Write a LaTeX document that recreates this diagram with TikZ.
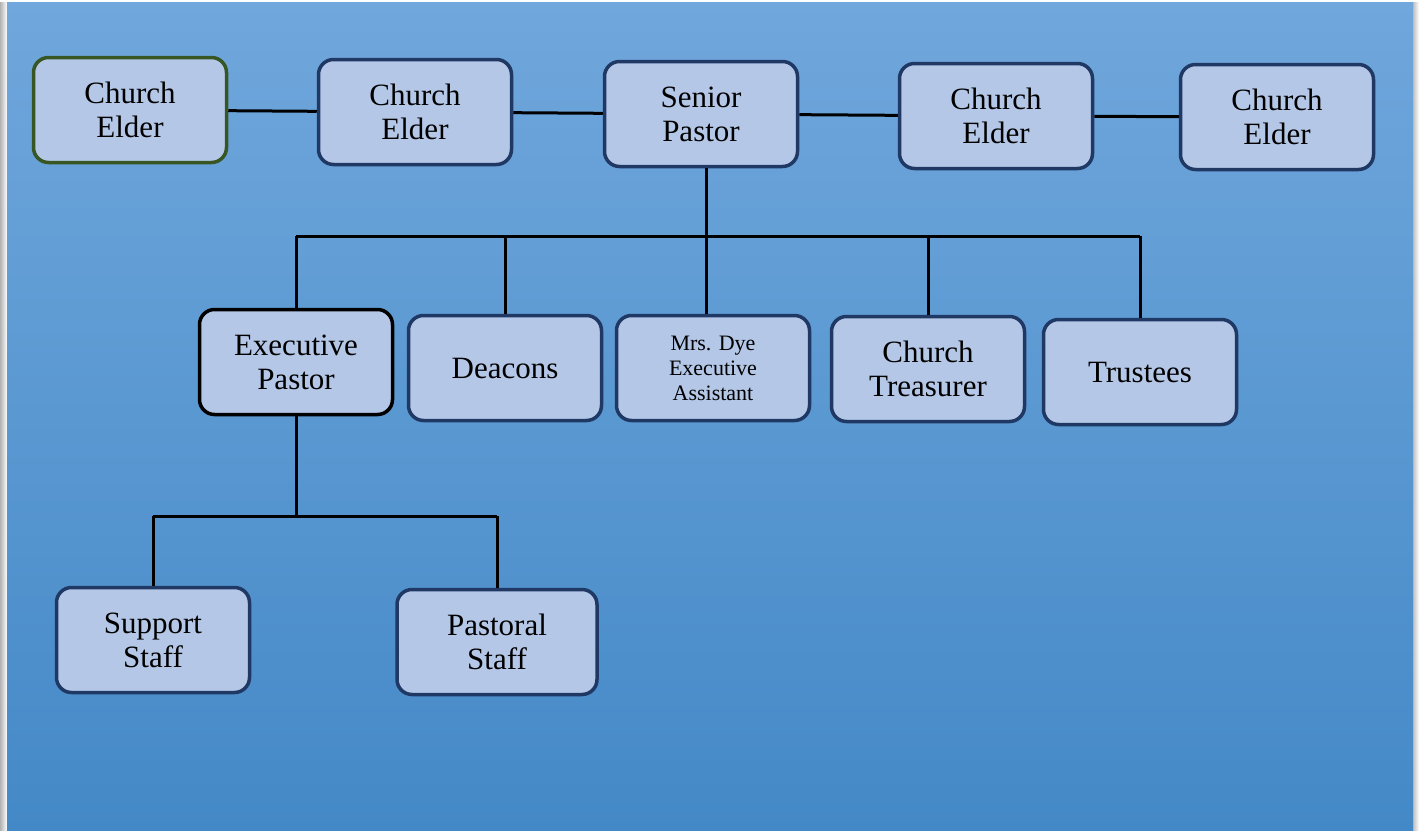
\documentclass[tikz,border=0pt]{standalone}
\usepackage{fontspec}
\setmainfont{Liberation Serif}
\definecolor{paneltop}{RGB}{112,167,220}
\definecolor{panelbot}{RGB}{68,137,199}
\definecolor{boxfill}{RGB}{180,199,231}
\definecolor{boxline}{RGB}{31,56,100}
\definecolor{elderline}{RGB}{55,86,35}
\tikzset{
	post/.style={draw=boxline, fill=boxfill, line width=3.5pt, rounded corners=15pt,
		minimum width=193pt, minimum height=105pt, align=center,
		font=\fontsize{31}{34}\selectfont},
	link/.style={line width=3pt}
}
\begin{document}
\begin{tikzpicture}[x=1pt,y=-1pt]
	\useasboundingbox (0,0) rectangle (1419,830);
	\fill[white] (0,0) rectangle (1419,830);
	\shade[left color=gray!60, right color=white] (0,2) rectangle (7,830);
	\shade[left color=gray!50, right color=white] (1413,2) rectangle (1419,830);
	\shade[top color=paneltop, bottom color=panelbot] (7,2) rectangle (1413,830);
	
	% top row
	\node[post, draw=elderline] (e1) at (130,110) {Church\\Elder};
	\node[post] (e2) at (415,112) {Church\\Elder};
	\node[post] (sp) at (701,114) {Senior\\Pastor};
	\node[post] (e3) at (996,116) {Church\\Elder};
	\node[post] (e4) at (1277,117) {Church\\Elder};
	
	\draw[link] (e1) -- (e2);
	\draw[link] (e2) -- (sp);
	\draw[link] (sp) -- (e3);
	\draw[link] (e3) -- (e4);
	
	% second row
	\node[post, draw=black] (ep) at (296,362) {Executive\\Pastor};
	\node[post] (dc) at (505,368) {Deacons};
	\node[post, font=\fontsize{22}{25}\selectfont] (ea) at (713,368) {Mrs. Dye\\Executive\\Assistant};
	\node[post] (tr) at (928,369) {Church\\Treasurer};
	\node[post] (ts) at (1140,372) {Trustees};
	
	\coordinate (bus) at (706,236);
	\draw[link] (sp.south -| bus) -- (bus);
	\draw[link] (ep.north |- bus) -- (ts.north |- bus);
	\draw[link] (ep.north |- bus) -- (ep.north);
	\draw[link] (dc.north |- bus) -- (dc.north);
	\draw[link] (bus) -- (bus |- ea.north);
	\draw[link] (tr.north |- bus) -- (tr.north);
	\draw[link] (ts.north |- bus) -- (ts.north);
	
	% third row
	\node[post] (ss) at (153,640) {Support\\Staff};
	\node[post, minimum width=200pt] (ps) at (497,642) {Pastoral\\Staff};
	
	\coordinate (bus2) at (ep.south |- 0,516);
	\draw[link] (ep.south) -- (bus2);
	\draw[link] (ss.north |- bus2) -- (ps.north |- bus2);
	\draw[link] (ss.north |- bus2) -- (ss.north);
	\draw[link] (ps.north |- bus2) -- (ps.north);
\end{tikzpicture}
\end{document}
